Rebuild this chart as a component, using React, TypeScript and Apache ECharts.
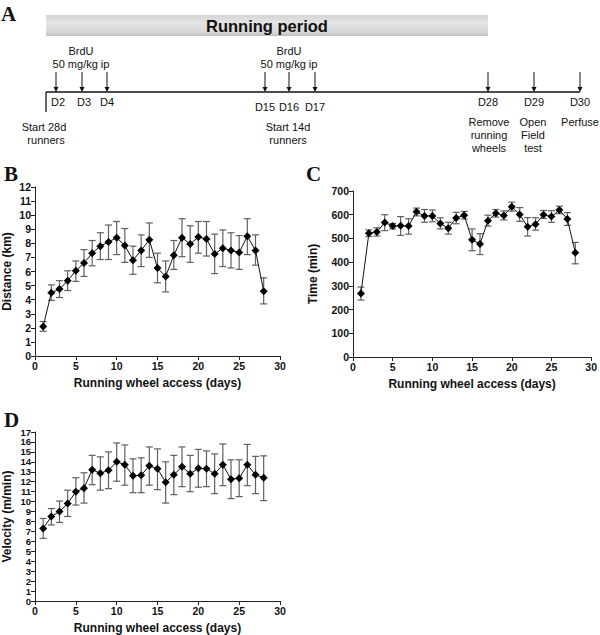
import React, { useEffect, useRef } from "react";
import * as echarts from "echarts";

const days = [1,2,3,4,5,6,7,8,9,10,11,12,13,14,15,16,17,18,19,20,21,22,23,24,25,26,27,28];

const distanceMean = [2.1,4.5,4.75,5.35,6.05,6.6,7.3,7.8,8.1,8.4,7.85,6.8,7.5,8.25,6.25,5.65,7.15,8.4,7.95,8.45,8.3,7.25,7.65,7.5,7.35,8.5,7.5,4.6];
const distanceLow = [1.75,3.95,4.15,4.65,5.3,5.65,6.4,6.85,6.85,7.2,6.65,5.8,6.35,7.0,5.2,4.55,6.15,7.05,6.65,7.3,7.1,5.85,6.35,6.25,6.15,7.2,6.45,3.7];
const distanceHigh = [2.45,5.05,5.35,6.05,6.75,7.55,8.2,8.75,9.3,9.55,9.05,7.8,8.6,9.45,7.3,6.75,8.2,9.75,9.25,9.55,9.55,8.65,8.95,8.75,8.55,9.75,8.6,5.55];

const timeMean = [268,522,527,567,552,553,552,612,595,595,563,543,586,598,494,477,575,606,597,634,601,549,560,600,592,620,582,440];
const timeLow = [240,508,510,533,540,513,518,595,568,570,540,518,562,582,448,432,552,590,578,615,572,510,535,584,568,604,555,393];
const timeHigh = [295,536,545,600,563,592,583,628,622,620,587,568,610,614,540,520,598,622,616,653,630,588,587,618,617,636,609,483];

const velocityMean = [7.3,8.5,9.0,9.8,11.0,11.35,13.2,12.85,13.15,14.0,13.7,12.6,12.65,13.6,13.3,11.95,12.7,13.5,12.8,13.35,13.3,12.8,13.7,12.25,12.35,13.7,12.7,12.4];
const velocityLow = [6.3,7.65,7.9,8.5,9.65,9.85,11.7,11.15,11.3,12.05,11.65,10.9,10.9,11.65,11.2,9.85,10.7,11.5,11.0,11.45,11.5,10.8,11.6,10.3,10.5,11.6,10.8,10.1];
const velocityHigh = [8.3,9.3,10.05,11.15,12.4,12.9,14.65,14.5,15.0,15.9,15.7,14.3,14.4,15.5,15.3,14.0,14.65,15.5,14.65,15.25,15.1,14.8,15.8,14.2,14.2,15.75,14.55,14.6];

const xTitle = "Running wheel access (days)";
const yTitles = ["Distance (km)", "Time (min)", "Velocity (m/min)"];
const panelLetters = ["A", "B", "C", "D"];

const SANS = "Liberation Sans, Arial, sans-serif";
const SERIF = "Liberation Serif, Times New Roman, serif";

function errRender(params: any, api: any) {
  const x = api.value(0);
  const lo = api.coord([x, api.value(1)]);
  const hi = api.coord([x, api.value(2)]);
  const w = 3.5;
  const style = { stroke: "#606060", lineWidth: 1.2 };
  return {
    type: "group",
    children: [
      { type: "line", shape: { x1: lo[0], y1: lo[1], x2: hi[0], y2: hi[1] }, style },
      { type: "line", shape: { x1: lo[0] - w, y1: lo[1], x2: lo[0] + w, y2: lo[1] }, style },
      { type: "line", shape: { x1: hi[0] - w, y1: hi[1], x2: hi[0] + w, y2: hi[1] }, style },
    ],
  };
}

function xAxisCfg(gridIndex: number) {
  return {
    type: "value",
    gridIndex,
    min: 0,
    max: 30,
    interval: 5,
    name: xTitle,
    nameLocation: "middle",
    nameGap: 21,
    nameTextStyle: { fontFamily: SANS, fontWeight: "bold", fontSize: 12, color: "#111" },
    axisLine: { lineStyle: { color: "#222", width: 1 } },
    axisTick: { show: true, length: 4, lineStyle: { color: "#222" } },
    axisLabel: { fontFamily: SANS, fontWeight: "bold", fontSize: 10.5, color: "#111", margin: 4, showMinLabel: true, showMaxLabel: true },
    splitLine: { show: false },
  };
}

function yAxisCfg(gridIndex: number, max: number, interval: number, name: string, nameGap: number, fontSize: number) {
  return {
    type: "value",
    gridIndex,
    min: 0,
    max,
    interval,
    name,
    nameLocation: "middle",
    nameGap,
    nameTextStyle: { fontFamily: SANS, fontWeight: "bold", fontSize: 12, color: "#111" },
    axisLine: { show: true, lineStyle: { color: "#222", width: 1 } },
    axisTick: { show: true, length: 4, lineStyle: { color: "#222" } },
    axisLabel: {
      fontFamily: SANS,
      fontWeight: "bold",
      fontSize,
      color: "#111",
      margin: 4,
      showMinLabel: true,
      showMaxLabel: true,
      hideOverlap: false,
      lineHeight: fontSize,
    },
    splitLine: { show: false },
  };
}

function seriesFor(idx: number, mean: number[], low: number[], high: number[]) {
  return [
    {
      type: "custom",
      xAxisIndex: idx,
      yAxisIndex: idx,
      renderItem: errRender,
      data: days.map((d, i) => [d, low[i], high[i]]),
      encode: { x: 0, y: [1, 2] },
      z: 2,
    },
    {
      type: "line",
      xAxisIndex: idx,
      yAxisIndex: idx,
      data: days.map((d, i) => [d, mean[i]]),
      symbol: "diamond",
      symbolSize: 8,
      showSymbol: true,
      lineStyle: { color: "#111", width: 1 },
      itemStyle: { color: "#000" },
      z: 3,
    },
  ];
}

function txt(x: number, y: number, text: string, opts: any = {}) {
  return {
    type: "text",
    x,
    y,
    style: {
      text,
      fill: "#111",
      font: opts.font || `11px ${SANS}`,
      textAlign: opts.align || "center",
      textVerticalAlign: "middle",
    },
  };
}

function arrow(x: number, y1: number, y2: number) {
  return [
    { type: "line", shape: { x1: x, y1, x2: x, y2: y2 - 4 }, style: { stroke: "#111", lineWidth: 1 } },
    { type: "polygon", shape: { points: [[x - 2.5, y2 - 5], [x + 2.5, y2 - 5], [x, y2]] }, style: { fill: "#111" } },
  ];
}

function buildGraphic() {
  const els: any[] = [];
  els.push({
    type: "rect",
    shape: { x: 46, y: 15, width: 442, height: 21 },
    style: {
      fill: new echarts.graphic.LinearGradient(0, 0, 0, 1, [
        { offset: 0, color: "#d4d4d4" },
        { offset: 0.35, color: "#e4e4e4" },
        { offset: 0.8, color: "#d8d8d8" },
        { offset: 1, color: "#c0c0c0" },
      ]),
    },
  });
  els.push(txt(267, 26, "Running period", { font: `bold 16.5px ${SANS}` }));
  els.push({ type: "line", shape: { x1: 46, y1: 92, x2: 580, y2: 92 }, style: { stroke: "#111", lineWidth: 1.3 } });
  els.push({ type: "line", shape: { x1: 46, y1: 92, x2: 46, y2: 112 }, style: { stroke: "#111", lineWidth: 1.3 } });
  els.push(txt(81, 51, "BrdU"));
  els.push(txt(81, 64, "50 mg/kg ip"));
  els.push(txt(289, 51, "BrdU"));
  els.push(txt(289, 64, "50 mg/kg ip"));
  const arrowXs = [56, 82, 107, 265, 289, 315, 488, 534, 580];
  arrowXs.forEach((x) => els.push(...arrow(x, 72, 92)));
  const top = [["D2", 58], ["D3", 84], ["D4", 107], ["D28", 488], ["D29", 534], ["D30", 580]];
  top.forEach(([t, x]) => els.push(txt(x as number, 102, t as string)));
  const mid = [["D15", 265], ["D16", 289], ["D17", 315]];
  mid.forEach(([t, x]) => els.push(txt(x as number, 107, t as string)));
  els.push(txt(44, 127, "Start 28d"));
  els.push(txt(46, 140, "runners"));
  els.push(txt(288, 127, "Start 14d"));
  els.push(txt(288, 140, "runners"));
  els.push(txt(489, 122, "Remove"));
  els.push(txt(489, 135, "running"));
  els.push(txt(489, 148, "wheels"));
  els.push(txt(533, 122, "Open"));
  els.push(txt(533, 135, "Field"));
  els.push(txt(533, 148, "test"));
  els.push(txt(580, 122, "Perfuse"));
  const letterPos = [[1, 14], [4, 174], [306, 174], [4, 420]];
  panelLetters.forEach((l, i) =>
    els.push(txt(letterPos[i][0], letterPos[i][1], l, { font: `bold 21px ${SERIF}`, align: "left" }))
  );
  return els;
}

export default function App() {
  const ref = useRef<HTMLDivElement>(null);
  useEffect(() => {
    if (!ref.current) return;
    const chart = echarts.init(ref.current, undefined, { renderer: "svg" });
    chart.setOption({
      animation: false,
      backgroundColor: "#fff",
      grid: [
        { left: 34, top: 187, width: 246, height: 169 },
        { left: 353, top: 191, width: 240, height: 166 },
        { left: 34, top: 432, width: 246, height: 170 },
      ],
      xAxis: [xAxisCfg(0), xAxisCfg(1), xAxisCfg(2)],
      yAxis: [
        yAxisCfg(0, 12, 1, yTitles[0], 22, 10.5),
        yAxisCfg(1, 700, 100, yTitles[1], 34, 10.5),
        yAxisCfg(2, 17, 1, yTitles[2], 22, 9.5),
      ],
      series: [
        ...seriesFor(0, distanceMean, distanceLow, distanceHigh),
        ...seriesFor(1, timeMean, timeLow, timeHigh),
        ...seriesFor(2, velocityMean, velocityLow, velocityHigh),
      ],
      graphic: buildGraphic(),
    });
    return () => chart.dispose();
  }, []);
  return (
    <div
      ref={ref}
      style={{ position: "absolute", left: 0, top: 0, width: 600, height: 635 }}
    />
  );
}
